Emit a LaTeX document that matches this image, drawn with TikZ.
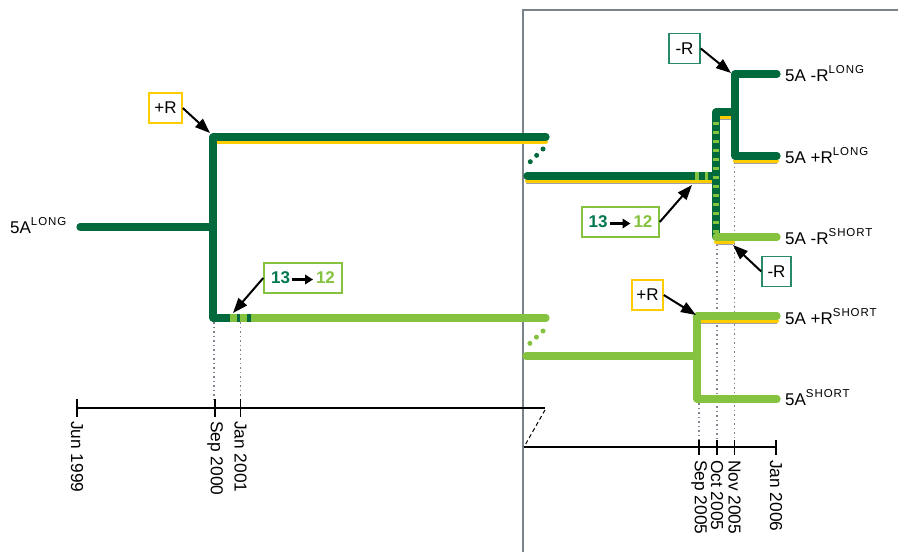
\documentclass[tikz,border=0pt]{standalone}
\usepackage{fontspec}
\usepackage{graphicx}
\setmainfont{Liberation Sans}
\newfontfamily\supfont[LetterSpace=8]{Liberation Sans}
\usetikzlibrary{arrows.meta}
\definecolor{dkg}{RGB}{0,106,61}
\definecolor{ltg}{RGB}{133,194,64}
\definecolor{ylw}{RGB}{255,204,0}
\definecolor{frm}{RGB}{122,130,138}
\definecolor{tealb}{RGB}{40,138,106}
\definecolor{num13}{RGB}{0,120,78}
\definecolor{dotg}{RGB}{130,132,145}
\definecolor{shd}{RGB}{160,160,168}
\newcommand\supx[1]{\raisebox{8pt}{\fontsize{11.5}{12}\supfont #1}}
\begin{document}
\begin{tikzpicture}[x=1pt,y=-1pt,
  dk/.style={draw=dkg,line width=7.2pt,line cap=round,line join=round},
  lt/.style={draw=ltg,line width=7.2pt,line cap=round,line join=round},
  yl/.style={draw=ylw,line width=4pt,line cap=round},
  sh/.style={draw=shd,line width=0.8pt},
  vdot/.style={draw=dotg,line width=1.3pt,dash pattern=on 1.5pt off 3pt},
  axisline/.style={draw=black,line width=1.8pt},
  brk/.style={line width=5pt,line cap=round,dash pattern=on 0pt off 9pt},
  arr/.style={draw=black,line width=2pt,-{Triangle[length=15pt,width=11pt]}},
  lbl/.style={font=\fontsize{17}{20}\selectfont,inner sep=0pt,anchor=base west},
  tl/.style={font=\fontsize{17.3}{20}\selectfont,inner sep=0pt,rotate=-90,anchor=west},
  cbox/.style={draw,line width=1.5pt,fill=white,inner sep=0pt,minimum height=30pt,font=\fontsize{17}{20}\selectfont},
]
\useasboundingbox (0,0) rectangle (898,552);
\fill[white] (0,0) rectangle (898,552);

% frame
\draw[draw=frm,line width=1.3pt] (523,553) -- (523,10) -- (899,10);

% dotted guides
\draw[vdot] (214,322) -- (214,400);
\draw[vdot] (240.5,322) -- (240.5,400);
\draw[vdot] (699,403) -- (699,440);
\draw[vdot] (717,244) -- (717,440);
\draw[vdot] (734.5,162) -- (734.5,440);

% axes
\draw[axisline] (77,408) -- (545,408);
\draw[black,line width=1pt,dash pattern=on 4pt off 3pt] (545,410) -- (524,447);
\draw[axisline] (524,447) -- (777,447);
\draw[axisline] (77,399) -- (77,417) (215,399) -- (215,417) (240.5,399) -- (240.5,417);
\draw[axisline] (699,440) -- (699,455) (717,440) -- (717,455) (734.5,440) -- (734.5,455) (776,440) -- (776,455);

% left part
\draw[yl] (215,141.5) -- (546,141.5);
\draw[dk] (546,137) -- (213,137) -- (213,318) -- (230,318);
\draw[lt,line cap=butt] (230,318) -- (540,318);
\draw[lt] (539,318) -- (546,318);
\draw[dk,line cap=butt] (236.5,318) -- (240,318) (247,318) -- (250.5,318);
\draw[dk] (80,227) -- (213,227);

% breaks
\draw[brk,draw=dkg] (543,149) -- (525,167);
\draw[brk,draw=ltg] (543,331) -- (525.5,347.5);

% right dark part
\draw[sh] (526,183.5) -- (716,183.5);
\draw[yl] (527,180.5) -- (716,180.5);
\draw[dk] (527,176) -- (716,176);
\draw[sh] (716,119.5) -- (733,119.5);
\draw[yl] (716,116.5) -- (732,116.5);
\draw[dk] (735,112) -- (716,112) -- (716,237);
\draw[draw=ltg,line width=5.5pt,dash pattern=on 3.5pt off 5.5pt] (716,121.7) -- (716,233);
\draw[draw=ltg,line width=7.2pt] (695,176) -- (698.5,176) (704.5,176) -- (708,176);
\draw[sh] (716,244.5) -- (733,244.5);
\draw[yl] (716,241.5) -- (733,241.5);
\draw[lt] (716,237) -- (777,237);
\draw[sh] (735,163.5) -- (777,163.5);
\draw[yl] (735,160.5) -- (777,160.5);
\draw[dk] (777,74) -- (735,74) -- (735,156) -- (777,156);

% right light part
\draw[sh] (697,323.5) -- (777,323.5);
\draw[yl] (697,320.5) -- (777,320.5);
\draw[lt] (526,356) -- (697,356);
\draw[lt] (777,316) -- (697,316) -- (697,399) -- (777,399);

% timeline labels
\node[tl] (t1) at (77,421) {Jun 1999};
\node[tl] (t2) at (215,421) {Sep 2000};
\node[tl] (t3) at (240.5,421) {Jan 2001};
\node[tl] (t4) at (699,460) {Sep 2005};
\node[tl] (t5) at (717,460) {Oct 2005};
\node[tl] (t6) at (734.5,460) {Nov 2005};
\node[tl] (t7) at (776,460) {Jan 2006};

% strain labels
\node[lbl] (L0) at (10,233) {5A\supx{LONG}};
\node[lbl] (L1) at (785,81.5) {5A -R\supx{LONG}};
\node[lbl] (L2) at (785,163) {5A +R\supx{LONG}};
\node[lbl] (L3) at (785,244) {5A -R\supx{SHORT}};
\node[lbl] (L4) at (785,324) {5A +R\supx{SHORT}};
\node[lbl] (L5) at (785,405) {5A\supx{SHORT}};

% callouts
\node[cbox,draw=ylw,minimum width=33pt] (b1) at (165.5,108) {+R};
\node[cbox,draw=ltg,minimum width=78pt] (b2) at (303,278) {\textbf{\textcolor{num13}{13}}\hspace{26pt}\textbf{\textcolor{ltg}{12}}};
\node[cbox,draw=ltg,minimum width=77pt] (b3) at (620.5,222) {\textbf{\textcolor{num13}{13}}\hspace{26pt}\textbf{\textcolor{ltg}{12}}};
\node[cbox,draw=tealb,minimum width=31pt] (b4) at (684.5,48.5) {-R};
\node[cbox,draw=tealb,minimum width=29pt] (b5) at (776.5,271.5) {-R};
\node[cbox,draw=ylw,minimum width=31pt] (b6) at (647.5,295) {+R};

\draw[line width=2.4pt,-{Triangle[length=8pt,width=9.5pt]}] ([xshift=-11pt,yshift=-1.5pt]b2.center) -- ([xshift=10pt,yshift=-1.5pt]b2.center);
\draw[line width=2.4pt,-{Triangle[length=8pt,width=9.5pt]}] ([xshift=-11pt,yshift=-1.5pt]b3.center) -- ([xshift=10pt,yshift=-1.5pt]b3.center);

\coordinate (a1) at (210,133);
\coordinate (a2) at (233,313);
\coordinate (a3) at (692,185);
\coordinate (a4) at (731,73);
\coordinate (a5) at (733,245);
\coordinate (a6) at (696,315);
\draw[arr] (b1.east) -- (a1);
\draw[arr] (b2.west) -- (a2);
\draw[arr] (b3.east) -- (a3);
\draw[arr] (b4.east) -- (a4);
\draw[arr] (b5.west) -- (a5);
\draw[arr] (b6.east) -- (a6);
\end{tikzpicture}
\end{document}
